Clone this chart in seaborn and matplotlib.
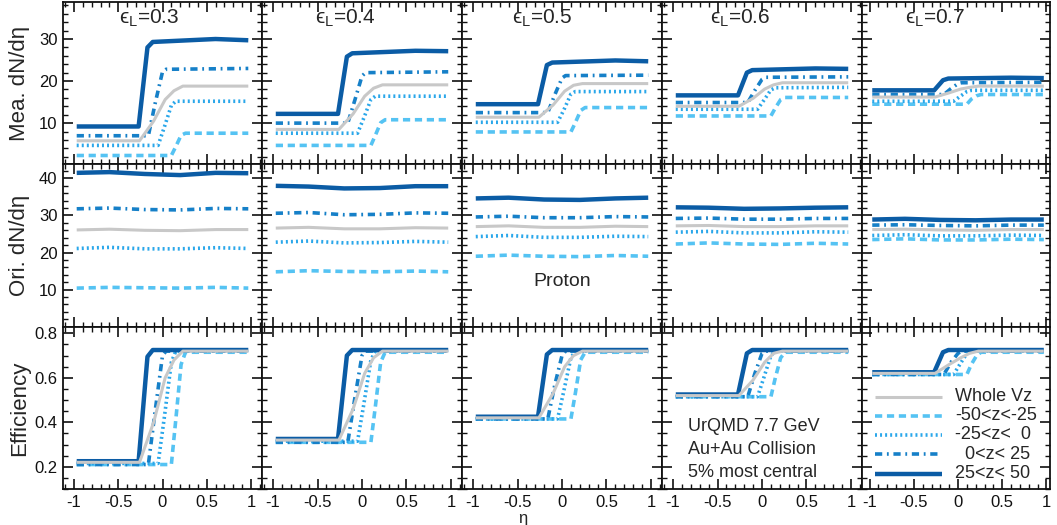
import matplotlib
matplotlib.use("Agg")
import matplotlib.pyplot as plt
import seaborn as sns
from matplotlib.ticker import MultipleLocator, FixedLocator
from matplotlib.lines import Line2D

# ---------------- data ----------------
EPSILONS = ["0.3", "0.4", "0.5", "0.6", "0.7"]
SERIES = ["Whole Vz", "-50<z<-25", "-25<z<  0", "  0<z< 25", "25<z< 50"]

# eta break points of each curve (rows "Mea." and "Efficiency")
ETA_WHOLE = [-0.97, -0.26, -0.10, 0.03, 0.13, 0.23, 0.97]
ETA_NEG50 = [-0.97, 0.10, 0.15, 0.21, 0.26, 0.97]
ETA_NEG25 = [-0.97, -0.05, 0.02, 0.10, 0.15, 0.97]
ETA_POS0 = [-0.97, -0.16, -0.08, 0.00, 0.04, 0.97]
ETA_POS25 = [-0.97, -0.27, -0.17, -0.11, 0.60, 0.97]
# eta points of the "Ori." row
ETA_ORI = [-0.97, -0.6, -0.2, 0.2, 0.6, 0.97]

# measured dN/deta, one list per epsilon_L
MEA_WHOLE = [[5.8, 5.8, 10.5, 15.6, 17.7, 18.8, 18.8],
             [8.5, 8.5, 12.2, 16.4, 18.3, 19.1, 19.1],
             [11.4, 11.4, 14.3, 17.6, 19.0, 19.4, 19.4],
             [14.0, 14.0, 15.9, 18.1, 19.1, 19.6, 19.6],
             [16.2, 16.2, 17.2, 18.1, 18.5, 18.8, 18.8]]
MEA_NEG50 = [[2.3, 2.3, 4.4, 7.1, 7.6, 7.6],
             [4.7, 4.7, 7.1, 10.1, 10.8, 10.8],
             [7.9, 7.9, 10.1, 13.0, 13.7, 13.7],
             [11.7, 11.7, 13.6, 15.6, 16.1, 16.1],
             [14.5, 14.5, 15.7, 16.5, 16.8, 16.8]]
MEA_NEG25 = [[4.7, 4.7, 9.0, 14.2, 15.2, 15.2],
             [7.6, 7.6, 11.2, 15.6, 16.4, 16.4],
             [10.2, 10.2, 13.1, 16.9, 17.5, 17.5],
             [13.3, 13.3, 15.4, 17.9, 18.4, 18.5],
             [15.2, 15.2, 16.3, 17.5, 17.8, 17.8]]
MEA_POS0 = [[7.0, 7.0, 15.0, 22.2, 22.8, 23.0],
            [10.0, 10.0, 15.5, 21.2, 22.0, 22.2],
            [12.5, 12.5, 16.8, 20.7, 21.3, 21.4],
            [14.9, 14.9, 17.8, 20.4, 20.9, 21.0],
            [16.8, 16.8, 18.2, 19.4, 19.6, 19.7]]
MEA_POS25 = [[9.2, 9.2, 28.0, 29.3, 30.0, 29.7],
             [12.2, 12.2, 25.8, 26.6, 27.2, 27.1],
             [14.5, 14.5, 23.8, 24.4, 24.9, 24.7],
             [16.6, 16.6, 22.0, 22.6, 23.0, 22.9],
             [17.8, 17.8, 20.2, 20.6, 20.8, 20.7]]

# original dN/deta
ORI_WHOLE = [[26.1, 26.3, 26.0, 25.9, 26.2, 26.2],
             [26.6, 26.8, 26.4, 26.4, 26.7, 26.6],
             [27.0, 27.2, 26.8, 26.8, 27.1, 27.0],
             [27.2, 27.3, 27.0, 27.0, 27.2, 27.2],
             [26.2, 26.3, 26.1, 26.0, 26.2, 26.2]]
ORI_NEG50 = [[10.4, 10.6, 10.5, 10.4, 10.6, 10.4],
             [14.8, 15.1, 14.9, 14.8, 15.0, 14.8],
             [19.0, 19.3, 19.0, 18.9, 19.2, 19.0],
             [22.3, 22.6, 22.3, 22.2, 22.5, 22.3],
             [23.5, 23.7, 23.4, 23.4, 23.6, 23.5]]
ORI_NEG25 = [[21.1, 21.4, 21.0, 21.0, 21.3, 21.1],
             [22.8, 23.1, 22.6, 22.7, 23.0, 22.8],
             [24.3, 24.6, 24.1, 24.1, 24.4, 24.3],
             [25.5, 25.7, 25.3, 25.3, 25.6, 25.5],
             [24.6, 24.8, 24.5, 24.5, 24.7, 24.6]]
ORI_POS0 = [[31.8, 32.0, 31.6, 31.5, 31.9, 31.8],
            [30.6, 30.8, 30.2, 30.3, 30.7, 30.6],
            [29.6, 29.8, 29.4, 29.4, 29.7, 29.6],
            [29.2, 29.3, 29.0, 29.0, 29.2, 29.2],
            [27.4, 27.5, 27.3, 27.2, 27.4, 27.4]]
ORI_POS25 = [[41.5, 41.7, 41.2, 40.9, 41.5, 41.4],
             [38.0, 37.8, 37.3, 37.4, 37.9, 37.9],
             [34.6, 34.8, 34.3, 34.2, 34.6, 34.8],
             [32.2, 32.1, 31.8, 31.9, 32.1, 32.2],
             [28.9, 29.1, 28.8, 28.7, 28.9, 28.9]]

# efficiency
EFF_WHOLE = [[0.22, 0.22, 0.40, 0.60, 0.68, 0.72, 0.72],
             [0.32, 0.32, 0.46, 0.62, 0.69, 0.72, 0.72],
             [0.42, 0.42, 0.53, 0.65, 0.70, 0.72, 0.72],
             [0.52, 0.52, 0.59, 0.67, 0.71, 0.72, 0.72],
             [0.62, 0.62, 0.66, 0.69, 0.71, 0.72, 0.72]]
EFF_NEG50 = [[0.21, 0.21, 0.41, 0.66, 0.715, 0.715],
             [0.31, 0.31, 0.47, 0.67, 0.715, 0.715],
             [0.415, 0.415, 0.53, 0.68, 0.715, 0.715],
             [0.515, 0.515, 0.60, 0.69, 0.715, 0.715],
             [0.615, 0.615, 0.66, 0.70, 0.715, 0.715]]
EFF_NEG25 = [[0.215, 0.215, 0.42, 0.67, 0.72, 0.72],
             [0.315, 0.315, 0.48, 0.68, 0.72, 0.72],
             [0.415, 0.415, 0.54, 0.69, 0.72, 0.72],
             [0.515, 0.515, 0.60, 0.70, 0.72, 0.72],
             [0.615, 0.615, 0.66, 0.71, 0.72, 0.72]]
EFF_POS0 = [[0.21, 0.21, 0.46, 0.70, 0.72, 0.72],
            [0.31, 0.31, 0.51, 0.70, 0.72, 0.72],
            [0.415, 0.415, 0.57, 0.70, 0.72, 0.72],
            [0.515, 0.515, 0.62, 0.71, 0.72, 0.72],
            [0.615, 0.615, 0.67, 0.71, 0.72, 0.72]]
EFF_POS25 = [[0.225, 0.225, 0.695, 0.725, 0.725, 0.725],
             [0.325, 0.325, 0.70, 0.725, 0.725, 0.725],
             [0.425, 0.425, 0.705, 0.725, 0.725, 0.725],
             [0.525, 0.525, 0.71, 0.725, 0.725, 0.725],
             [0.625, 0.625, 0.715, 0.725, 0.725, 0.725]]

ROW_LABELS = ["Mea. dN/d\u03b7", "Ori. dN/d\u03b7", "Efficiency"]
NOTE_LINES = ["UrQMD 7.7 GeV", "Au+Au Collision", "5% most central"]

# ---------------- style ----------------
sns.set_style("ticks")
plt.rcParams["font.family"] = ["Liberation Sans", "DejaVu Sans"]
plt.rcParams["mathtext.fontset"] = "custom"
plt.rcParams["mathtext.rm"] = "Liberation Sans"
plt.rcParams["mathtext.it"] = "Liberation Sans"
plt.rcParams["axes.unicode_minus"] = False

STYLE = {
    "Whole Vz": dict(color="#c8c8c8", lw=2.2, ls="-"),
    "-50<z<-25": dict(color="#55c3f3", lw=2.6, ls=(0, (2.0, 1.3))),
    "-25<z<  0": dict(color="#2aa7ea", lw=2.6, ls=(0, (0.55, 0.85))),
    "  0<z< 25": dict(color="#1680c8", lw=2.6, ls=(0, (2.0, 1.3, 0.5, 1.3))),
    "25<z< 50": dict(color="#0b5ca5", lw=3.2, ls="-"),
}

STEP_ETA = {SERIES[0]: ETA_WHOLE, SERIES[1]: ETA_NEG50, SERIES[2]: ETA_NEG25,
            SERIES[3]: ETA_POS0, SERIES[4]: ETA_POS25}
MEA = {SERIES[0]: MEA_WHOLE, SERIES[1]: MEA_NEG50, SERIES[2]: MEA_NEG25,
       SERIES[3]: MEA_POS0, SERIES[4]: MEA_POS25}
ORI = {SERIES[0]: ORI_WHOLE, SERIES[1]: ORI_NEG50, SERIES[2]: ORI_NEG25,
       SERIES[3]: ORI_POS0, SERIES[4]: ORI_POS25}
EFF = {SERIES[0]: EFF_WHOLE, SERIES[1]: EFF_NEG50, SERIES[2]: EFF_NEG25,
       SERIES[3]: EFF_POS0, SERIES[4]: EFF_POS25}
DRAW_ORDER = [SERIES[1], SERIES[2], SERIES[3], SERIES[4], SERIES[0]]

W, H = 1057, 525
fig = plt.figure(figsize=(W / 100, H / 100), dpi=100)
gs = fig.add_gridspec(3, 5, left=63 / W, right=1050 / W, top=1 - 2 / H,
                      bottom=1 - 489 / H, wspace=0, hspace=0,
                      width_ratios=[199, 200, 200, 200, 188])

ylims = [(0.2, 38.8), (0.0, 43.8), (0.1, 0.83)]
ymajor = [[10, 20, 30], [10, 20, 30, 40], [0.2, 0.4, 0.6, 0.8]]
yminor = [2, 2, 0.05]

axes = [[fig.add_subplot(gs[r, c]) for c in range(5)] for r in range(3)]

for r in range(3):
    for c in range(5):
        ax = axes[r][c]
        for s in DRAW_ORDER:
            st = STYLE[s]
            if r == 1:
                xs, ys = ETA_ORI, ORI[s][c]
            elif r == 0:
                xs, ys = STEP_ETA[s], MEA[s][c]
            else:
                xs, ys = STEP_ETA[s], EFF[s][c]
            sns.lineplot(x=xs, y=ys, ax=ax, color=st["color"], linewidth=st["lw"],
                         linestyle=st["ls"], estimator=None, sort=False,
                         legend=False, solid_capstyle="butt", dash_capstyle="butt")
        if c < 4:
            ax.set_xlim(-1.125, 1.125)
        else:
            ax.set_xlim(-1.086, 1.04)
        ax.set_ylim(*ylims[r])
        ax.xaxis.set_major_locator(FixedLocator([-1, -0.5, 0, 0.5, 1]))
        ax.xaxis.set_minor_locator(MultipleLocator(0.1))
        ax.yaxis.set_major_locator(FixedLocator(ymajor[r]))
        ax.yaxis.set_minor_locator(MultipleLocator(yminor[r]))
        ax.tick_params(which="both", direction="in", top=True, right=True,
                       colors="#111111", labelsize=12, pad=4)
        ax.tick_params(which="major", length=7, width=1.2)
        ax.tick_params(which="minor", length=3.5, width=1.0)
        for sp in ax.spines.values():
            sp.set_linewidth(1.3)
            sp.set_color("#111111")
        ax.set_xlabel("")
        ax.set_ylabel("")
        if r < 2:
            ax.tick_params(labelbottom=False)
        else:
            ax.set_xticklabels(["-1", "-0.5", "0", "0.5", "1"])
        if c > 0:
            ax.tick_params(labelleft=False)
        else:
            if r == 2:
                ax.set_yticklabels(["0.2", "0.4", "0.6", "0.8"])
            ax.set_ylabel(ROW_LABELS[r], fontsize=16)
            ax.yaxis.set_label_coords(-0.165, 0.5)

# epsilon labels
EPS_X = [-0.49, -0.53, -0.56, -0.59, -0.60]
for c in range(5):
    axes[0][c].text(EPS_X[c], 34.8, "\u03f5$_{\\mathregular{L}}$=" + EPSILONS[c],
                    fontsize=15, ha="left", va="center")

axes[1][2].text(0.0, 12.2, "Proton", fontsize=14, ha="center", va="center")

for i, line in enumerate(NOTE_LINES):
    axes[2][3].text(-0.83, [0.382, 0.277, 0.172][i], line, fontsize=13,
                    ha="left", va="center")

# legend in last efficiency panel
ax = axes[2][4]
ys_leg = [0.568, 0.451, 0.333, 0.214, 0.093]
for s, yl in zip(SERIES, ys_leg):
    st = STYLE[s]
    ax.add_line(Line2D([0.069, 0.426], [yl, yl], transform=ax.transAxes,
                       color=st["color"], linewidth=st["lw"], linestyle=st["ls"],
                       solid_capstyle="butt", dash_capstyle="butt", clip_on=False))
    ax.text(0.495, yl, s, transform=ax.transAxes, fontsize=13, ha="left",
            va="center")

fig.text(523 / W, 1 - 518 / H, "\u03b7", fontsize=12, ha="center", va="center")

fig.savefig("out.png", dpi=100)
